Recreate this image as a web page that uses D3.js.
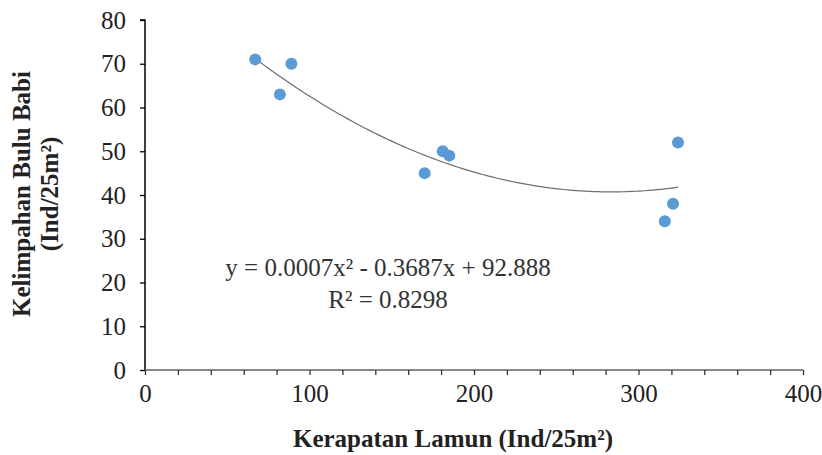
<!DOCTYPE html>
<html>
<head>
<meta charset="utf-8">
<script src="https://cdn.jsdelivr.net/npm/d3@7"></script>
<style>
html,body{margin:0;padding:0;background:#fff;}
svg{display:block;}
</style>
</head>
<body>
<svg id="chart" width="822" height="455"></svg>
<script>
// Data
const xValues = [67, 82, 89, 170, 181, 185, 316, 321, 324];
const yValues = [71, 63, 70, 45, 50, 49, 34, 38, 52];
const xTicks = [0, 100, 200, 300, 400];
const xMinorStep = 20;
const yTicks = [0, 10, 20, 30, 40, 50, 60, 70, 80];
const xTitle = "Kerapatan Lamun (Ind/25m²)";
const yTitle1 = "Kelimpahan Bulu Babi";
const yTitle2 = "(Ind/25m²)";
const eqLine1 = "y = 0.0007x² - 0.3687x + 92.888";
const eqLine2 = "R² = 0.8298";

const svg = d3.select("#chart");
const font = "'Liberation Serif','Times New Roman',serif";

const x = d3.scaleLinear().domain([0, 400]).range([145, 803]);
const y = d3.scaleLinear().domain([0, 80]).range([370, 20]);

// Least-squares quadratic fit (as the spreadsheet trendline)
function quadFit(xs, ys) {
  let n = xs.length, S = [0,0,0,0,0], T = [0,0,0];
  for (let i = 0; i < n; i++) {
    let p = 1;
    for (let k = 0; k < 5; k++) { S[k] += p; if (k < 3) T[k] += p * ys[i]; p *= xs[i]; }
  }
  const A = [[S[0],S[1],S[2],T[0]],[S[1],S[2],S[3],T[1]],[S[2],S[3],S[4],T[2]]];
  for (let c = 0; c < 3; c++) {
    for (let r = c + 1; r < 3; r++) {
      const f = A[r][c] / A[c][c];
      for (let k = c; k < 4; k++) A[r][k] -= f * A[c][k];
    }
  }
  const b = [0,0,0];
  for (let r = 2; r >= 0; r--) {
    let s = A[r][3];
    for (let k = r + 1; k < 3; k++) s -= A[r][k] * b[k];
    b[r] = s / A[r][r];
  }
  return b; // c0 + c1 x + c2 x^2
}
const coef = quadFit(xValues, yValues);
const xmin = d3.min(xValues), xmax = d3.max(xValues);
const curvePts = d3.range(0, 101).map(i => {
  const xv = xmin + (xmax - xmin) * i / 100;
  return [xv, coef[0] + coef[1] * xv + coef[2] * xv * xv];
});

// Axes
const yAxis = d3.axisLeft(y).tickValues(yTicks).tickSize(5).tickPadding(14).tickFormat(d3.format("d"));
const gy = svg.append("g").attr("transform", "translate(145,0)").call(yAxis);
gy.select(".domain").attr("stroke", "#000").attr("stroke-width", 1.5).attr("d", "M-5,20H0V370");
gy.selectAll(".tick line").attr("stroke", "#000").attr("stroke-width", 1.3);
gy.selectAll(".tick text").attr("font-family", font).attr("font-size", 25).attr("fill", "#222");

const xAxis = d3.axisBottom(x).tickValues(d3.range(0, 401, xMinorStep)).tickSize(5).tickPadding(9)
  .tickFormat(d => xTicks.includes(d) ? d : "");
const gx = svg.append("g").attr("transform", "translate(0,370)").call(xAxis);
gx.select(".domain").attr("stroke", "#8a8a8a").attr("stroke-width", 2).attr("d", "M145,0H803");
gx.selectAll(".tick line").attr("stroke", "#333").attr("stroke-width", 1.3);
gx.selectAll(".tick text").attr("font-family", font).attr("font-size", 25).attr("fill", "#222");

// Trendline
svg.append("path")
  .datum(curvePts)
  .attr("d", d3.line().x(d => x(d[0])).y(d => y(d[1])).curve(d3.curveLinear))
  .attr("fill", "none").attr("stroke", "#6e6e6e").attr("stroke-width", 1.2);

// Points
svg.append("g").selectAll("circle").data(xValues.map((v, i) => [v, yValues[i]])).join("circle")
  .attr("cx", d => x(d[0])).attr("cy", d => y(d[1])).attr("r", 6)
  .attr("fill", "#5b9bd5");

// Equation
svg.append("text").attr("x", 388).attr("y", 276).attr("text-anchor", "middle")
  .attr("font-family", font).attr("font-size", 25).attr("fill", "#333").text(eqLine1);
svg.append("text").attr("x", 388).attr("y", 308).attr("text-anchor", "middle")
  .attr("font-family", font).attr("font-size", 25).attr("fill", "#333").text(eqLine2);

// Axis titles
svg.append("text").attr("x", 453).attr("y", 447).attr("text-anchor", "middle")
  .attr("font-family", font).attr("font-size", 25).attr("font-weight", "bold").attr("fill", "#222").text(xTitle);
svg.append("text").attr("transform", "translate(30,194) rotate(-90)").attr("text-anchor", "middle")
  .attr("font-family", font).attr("font-size", 25).attr("font-weight", "bold").attr("fill", "#222").text(yTitle1);
svg.append("text").attr("transform", "translate(58,194) rotate(-90)").attr("text-anchor", "middle")
  .attr("font-family", font).attr("font-size", 25).attr("font-weight", "bold").attr("fill", "#222").text(yTitle2);
</script>
</body>
</html>
